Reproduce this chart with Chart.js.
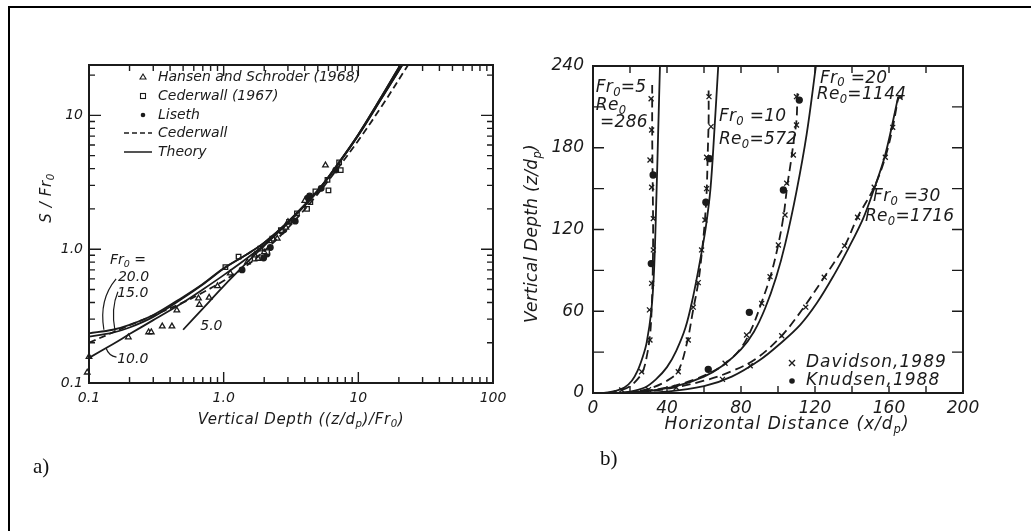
<!DOCTYPE html>
<html>
<head>
<meta charset="utf-8">
<title>Jet spreading and trajectories</title>
<script src="https://cdn.jsdelivr.net/npm/chart.js@4.4.1/dist/chart.umd.min.js"></script>
<style>
  html, body { margin: 0; padding: 0; background: #fff; }
  body { width: 1031px; height: 531px; position: relative; overflow: hidden; }
  .frame { position: absolute; left: 8px; top: 6px; width: 1100px; height: 600px;
           border-left: 2px solid #000; border-top: 2px solid #000; }
  canvas { position: absolute; top: 0; }
  #panelA { left: 0; }
  #panelB { left: 520px; }
  .tag { position: absolute; font: 21px "Liberation Serif", "Times New Roman", serif; color: #111; }
</style>
</head>
<body>
<div class="frame"></div>
<canvas id="panelA" width="520" height="531"></canvas>
<canvas id="panelB" width="511" height="531"></canvas>
<div class="tag" style="left:33px; top:454px">a)</div>
<div class="tag" style="left:600px; top:446px">b)</div>
<script>
const ink = "#1b1b1b";
const FONT = '"DejaVu Sans", "Liberation Sans", sans-serif';

// ---------- a) spreading S/Fr0 vs (z/dp)/Fr0, log-log ----------
const theoryX = [0.1, 0.15, 0.2, 0.3, 0.5, 0.7, 1.0, 1.5, 2, 3, 5, 7, 10, 15, 20.5];
const fr20Y = [0.235, 0.25, 0.272, 0.322, 0.44, 0.55, 0.72, 0.92, 1.12, 1.6, 2.75, 4.3, 7.2, 14, 23.8];
const fr15Y = [0.222, 0.238, 0.26, 0.312, 0.432, 0.545, 0.715, 0.92, 1.12, 1.6, 2.75, 4.3, 7.2, 14, 23.8];
const fr10X = [0.1, 0.15, 0.2, 0.3, 0.5, 0.7, 1.0, 1.5, 2, 3, 5, 7, 10, 15, 21.2];
const fr10Y = [0.154, 0.195, 0.232, 0.295, 0.4, 0.5, 0.64, 0.86, 1.08, 1.58, 2.72, 4.25, 7.1, 13.6, 23.8];
const fr5X = [0.5, 0.7, 1.0, 1.5, 2, 3, 5, 7, 10, 15, 21.2];
const fr5Y = [0.25, 0.36, 0.53, 0.8, 1.06, 1.57, 2.72, 4.25, 7.1, 13.6, 23.8];
const cederwallX = [0.1, 0.2, 0.3, 0.5, 0.7, 1, 1.5, 2, 3, 5, 7, 10, 15, 23.4];
const cederwallY = [0.2, 0.27, 0.32, 0.4, 0.475, 0.58, 0.76, 0.97, 1.44, 2.59, 4.0, 6.5, 11.8, 23.8];

const hansenX = [0.097, 0.1, 0.196, 0.277, 0.29, 0.35, 0.413, 0.449, 0.65, 0.66, 0.78, 0.9, 1.12, 1.5, 1.7, 1.8, 2.0, 2.2, 2.5, 2.9, 3.0, 4.0, 5.7];
const hansenY = [0.12, 0.157, 0.22, 0.24, 0.24, 0.265, 0.265, 0.35, 0.43, 0.385, 0.435, 0.53, 0.66, 0.8, 0.9, 0.85, 0.95, 1.15, 1.2, 1.45, 1.6, 2.3, 4.24];
const cederwall67X = [1.03, 1.29, 1.7, 1.87, 2.1, 2.3, 2.66, 3.06, 3.5, 4.16, 4.4, 4.8, 5.9, 6.0, 7.2, 7.4];
const cederwall67Y = [0.735, 0.88, 0.85, 1.01, 0.95, 1.2, 1.39, 1.6, 1.85, 2.0, 2.25, 2.7, 3.3, 2.75, 4.45, 3.9];
const lisethX = [1.37, 1.98, 2.1, 2.22, 2.7, 2.8, 3.4, 4.2, 4.35, 5.3, 6.8];
const lisethY = [0.7, 0.86, 0.92, 1.03, 1.36, 1.4, 1.62, 2.4, 2.5, 2.85, 3.9];

// ---------- b) trajectories z/dp vs x/dp ----------
const fr5SolidX = [6, 12, 17, 21, 24, 27, 29, 31.5, 33, 34.3, 35.2, 36.2];
const fr5SolidY = [0, 1.5, 4, 9, 16, 27, 37, 60, 90, 145, 190, 240];
const fr5DashX = [8, 15, 20, 24, 27, 29.5, 31, 31.8, 32.3, 32.5, 32.3, 32, 32];
const fr5DashY = [0, 2, 5, 10, 16, 30, 45, 65, 90, 120, 150, 190, 226];
const fr10SolidX = [12, 20, 28, 34, 40, 45, 50, 54, 58, 61, 63.5, 65.5, 67.7];
const fr10SolidY = [0, 1, 4, 10, 19, 31, 48, 70, 98, 122, 150, 190, 240];
const fr10DashX = [18, 30, 40, 46, 51, 54, 57, 59, 60.5, 61.5, 62, 62.5, 62.5];
const fr10DashY = [0, 3, 9, 16, 38, 60, 82, 105, 127, 150, 175, 200, 222];
const fr20SolidX = [15, 30, 45, 60, 70, 80, 87, 93, 99, 104, 110, 115.5, 120.5];
const fr20SolidY = [0, 1.5, 5, 12, 20, 32, 45, 62, 85, 110, 148, 190, 240];
const fr20DashX = [20, 40, 55, 65, 72, 80, 86, 91, 96, 100, 103, 105, 107, 108.5, 110, 110.5];
const fr20DashY = [0, 4, 10, 16, 22, 33, 48, 66, 86, 108, 130, 152, 170, 185, 200, 220];
const fr30SolidX = [20, 40, 60, 75, 90, 101, 112, 121, 130, 138, 146, 152, 158, 165];
const fr30SolidY = [0, 1, 5, 12, 24, 36, 50, 66, 86, 106, 128, 150, 175, 217.5];
const fr30DashX = [18, 40, 60, 75, 88, 102, 114, 125, 136, 143, 152, 158, 162, 165];
const fr30DashY = [0, 3, 9, 16, 25, 42, 63, 85, 108, 129, 151, 173, 195, 217];

const davidsonX = [15.5, 26.3, 30.8, 30.5, 31.7, 32.6, 32.6, 31.7, 30.8, 31.7, 31.4,
                   30, 46.1, 51.5, 54.2, 56.9, 58.7, 60.5, 61.4, 61.4, 63.8, 62.7,
                   71.4, 83, 91.2, 95.7, 100.2, 103.8, 104.7, 108.3, 110, 110,
                   45, 70, 85, 102, 115, 125, 136, 143, 152, 158, 162, 166];
const davidsonY = [2.2, 15.6, 38.9, 61, 80.5, 105, 128, 151, 171, 193, 216,
                   2.5, 15.6, 38.9, 63, 81, 105, 127, 150, 173, 195.5, 217.5,
                   21.8, 42.6, 65.8, 85.4, 108.6, 130.6, 154, 174.7, 196.7, 217.5,
                   4, 10, 20, 42, 63, 85, 108, 129, 151, 173, 195, 217];
const knudsenX = [31.5, 32.5, 61, 63, 62.3, 84.5, 102.9, 111.5];
const knudsenY = [95, 160, 140, 172, 17.4, 59.2, 149, 215];

const pts = (xs, ys) => xs.map((x, i) => ({ x: x, y: ys[i] }));

function curve(label, xs, ys, dash) {
    return {
        label: label,
        data: pts(xs, ys),
        showLine: true,
        borderColor: ink,
        borderWidth: 1.8,
        borderDash: dash || [],
        pointRadius: 0,
        tension: 0.35,
        fill: false,
    };
}

function marks(label, xs, ys, style, filled, r) {
    return {
        label: label,
        data: pts(xs, ys),
        showLine: false,
        pointStyle: style,
        pointRadius: r,
        borderWidth: 1.3,
        borderColor: ink,
        backgroundColor: filled ? ink : "#fff",
    };
}

// "Fr_0" -> Fr with subscript 0
function rich(s) {
    const parts = [];
    let buf = "";
    for (let i = 0; i < s.length; i++) {
        if (s[i] === "_" && i + 1 < s.length) {
            if (buf) parts.push({ t: buf });
            parts.push({ t: s[i + 1], sub: true });
            buf = "";
            i++;
        } else {
            buf += s[i];
        }
    }
    if (buf) parts.push({ t: buf });
    return parts;
}

function drawRich(ctx, s, x, y, size, align, spacing) {
    const parts = rich(s);
    const fontFor = (p) => `italic ${p.sub ? size * 0.68 : size}px ${FONT}`;
    ctx.letterSpacing = (spacing || 0) + "px";
    let w = 0;
    for (const p of parts) {
        ctx.font = fontFor(p);
        p.w = ctx.measureText(p.t).width;
        w += p.w;
    }
    let cx = align === "center" ? x - w / 2 : align === "right" ? x - w : x;
    ctx.textAlign = "left";
    ctx.textBaseline = "middle";
    for (const p of parts) {
        ctx.font = fontFor(p);
        ctx.fillText(p.t, cx, p.sub ? y + size * 0.3 : y);
        cx += p.w;
    }
    ctx.letterSpacing = "0px";
}

// frame round the plot and inward tick marks on all four sides
function frameTicks(xLen, yLen) {
    return {
        id: "frameTicks",
        afterDatasetsDraw(chart) {
            const { ctx, chartArea: a, scales } = chart;
            ctx.save();
            ctx.strokeStyle = ink;
            ctx.lineWidth = 1.4;
            ctx.beginPath();
            for (const t of scales.x.ticks) {
                const len = xLen(t.value);
                if (!len) continue;
                const px = scales.x.getPixelForValue(t.value);
                ctx.moveTo(px, a.bottom);
                ctx.lineTo(px, a.bottom - len);
                ctx.moveTo(px, a.top);
                ctx.lineTo(px, a.top + len);
            }
            for (const t of scales.y.ticks) {
                const len = yLen(t.value);
                if (!len) continue;
                const py = scales.y.getPixelForValue(t.value);
                ctx.moveTo(a.left, py);
                ctx.lineTo(a.left + len, py);
                ctx.moveTo(a.right, py);
                ctx.lineTo(a.right - len, py);
            }
            ctx.stroke();
            ctx.lineWidth = 2;
            ctx.strokeRect(a.left, a.top, a.right - a.left, a.bottom - a.top);
            ctx.restore();
        },
    };
}

function logTick(major, minor) {
    return (v) => {
        const e = Math.floor(Math.log10(v) + 1e-9);
        const m = v / Math.pow(10, e);
        if (Math.abs(m - Math.round(m)) > 1e-6) return 0;
        return Math.round(m) === 1 ? major : minor;
    };
}

function decadeLabel(v) {
    const e = Math.log10(v);
    if (Math.abs(e - Math.round(e)) > 1e-6) return "";
    const names = { "-1": "0.1", "0": "1.0", "1": "10", "2": "100" };
    return names[Math.round(e)] || "";
}

const tickFont = (size) => ({ family: FONT, size: size, style: "italic" });

// ---------- panel a) ----------
const notesA = [
    { text: "Fr_0 =", x: 0.143, y: 0.83 },
    { text: "20.0", x: 0.164, y: 0.618 },
    { text: "15.0", x: 0.162, y: 0.47 },
    { text: "5.0", x: 0.67, y: 0.266 },
    { text: "10.0", x: 0.162, y: 0.151 },
];
const leadersA = [
    [[0.159, 0.6], [0.118, 0.42], [0.129, 0.25]],
    [[0.164, 0.48], [0.145, 0.36], [0.156, 0.245]],
    [[0.16, 0.156], [0.14, 0.16], [0.134, 0.182]],
];

const textA = {
    id: "textA",
    afterDraw(chart) {
        const { ctx, chartArea: a, scales: { x, y } } = chart;
        ctx.save();
        ctx.fillStyle = ink;
        ctx.strokeStyle = ink;

        for (const n of notesA) {
            drawRich(ctx, n.text, x.getPixelForValue(n.x), y.getPixelForValue(n.y), 14, "left");
        }
        ctx.lineWidth = 1.2;
        for (const l of leadersA) {
            const p = l.map((q) => [x.getPixelForValue(q[0]), y.getPixelForValue(q[1])]);
            ctx.beginPath();
            ctx.moveTo(p[0][0], p[0][1]);
            ctx.quadraticCurveTo(p[1][0], p[1][1], p[2][0], p[2][1]);
            ctx.stroke();
        }

        // key in the upper left corner
        const kx = a.left + 54;
        const tx = a.left + 69;
        const rows = [12, 31, 50, 68, 87].map((d) => a.top + d);
        ctx.lineWidth = 1.1;
        ctx.beginPath();
        ctx.moveTo(kx, rows[0] - 3);
        ctx.lineTo(kx + 3, rows[0] + 2);
        ctx.lineTo(kx - 3, rows[0] + 2);
        ctx.closePath();
        ctx.stroke();
        ctx.strokeRect(kx - 2.5, rows[1] - 2.5, 5, 5);
        ctx.beginPath();
        ctx.arc(kx, rows[2], 2.3, 0, Math.PI * 2);
        ctx.fill();
        ctx.lineWidth = 1.5;
        ctx.setLineDash([5, 3]);
        ctx.beginPath();
        ctx.moveTo(a.left + 35, rows[3]);
        ctx.lineTo(a.left + 63, rows[3]);
        ctx.stroke();
        ctx.setLineDash([]);
        ctx.beginPath();
        ctx.moveTo(a.left + 35, rows[4]);
        ctx.lineTo(a.left + 63, rows[4]);
        ctx.stroke();
        const keys = ["Hansen and Schroder (1968)", "Cederwall (1967)", "Liseth", "Cederwall", "Theory"];
        keys.forEach((k, i) => drawRich(ctx, k, tx, rows[i], 14, "left"));

        // axis titles
        drawRich(ctx, "Vertical Depth ((z/d_p)/Fr_0)", (a.left + a.right) / 2 + 10, a.bottom + 37, 15, "center", 0.6);
        ctx.translate(a.left - 42, a.top + 133);
        ctx.rotate(-Math.PI / 2);
        drawRich(ctx, "S / Fr_0", 0, 0, 15, "center", 0.6);
        ctx.restore();
    },
};

new Chart(document.getElementById("panelA"), {
    type: "scatter",
    data: {
        datasets: [
            curve("Theory Fr0 = 20", theoryX, fr20Y),
            curve("Theory Fr0 = 15", theoryX, fr15Y),
            curve("Theory Fr0 = 10", fr10X, fr10Y),
            curve("Theory Fr0 = 5", fr5X, fr5Y),
            curve("Cederwall", cederwallX, cederwallY, [7, 4]),
            Object.assign(marks("Hansen and Schroder (1968)", hansenX, hansenY, "triangle", false, 3.2), { clip: false }),
            marks("Cederwall (1967)", cederwall67X, cederwall67Y, "rect", false, 3.2),
            marks("Liseth", lisethX, lisethY, "circle", true, 2.8),
        ],
    },
    options: {
        responsive: false,
        animation: false,
        layout: { padding: { left: 39, right: 27, top: 65, bottom: 108 } },
        plugins: { legend: { display: false }, tooltip: { enabled: false } },
        scales: {
            x: {
                type: "logarithmic",
                min: 0.1,
                max: 100,
                grid: { display: false, drawTicks: false },
                border: { display: false },
                ticks: { autoSkip: false, maxRotation: 0, padding: 7, color: ink, font: tickFont(14), callback: decadeLabel },
                afterFit: (s) => { s.height = 40; },
            },
            y: {
                type: "logarithmic",
                min: 0.1,
                max: 23.8,
                grid: { display: false, drawTicks: false },
                border: { display: false },
                ticks: { autoSkip: false, padding: 6, color: ink, font: tickFont(14), callback: decadeLabel },
                afterFit: (s) => { s.width = 50; },
            },
        },
    },
    plugins: [frameTicks(logTick(11, 6), logTick(12, 6)), textA],
});

// ---------- panel b) ----------
const notesB = [
    { text: "Fr_0=5", x: 1.5, y: 224 },
    { text: "Re_0", x: 1.5, y: 211 },
    { text: "=286", x: 3.8, y: 198.5 },
    { text: "Fr_0 =10", x: 68.1, y: 202.6 },
    { text: "Re_0=572", x: 68.1, y: 185.7 },
    { text: "Fr_0 =20", x: 122.7, y: 231 },
    { text: "Re_0=1144", x: 121, y: 218.7 },
    { text: "Fr_0 =30", x: 151.4, y: 143.9 },
    { text: "Re_0=1716", x: 147, y: 129.2 },
];

const textB = {
    id: "textB",
    afterDraw(chart) {
        const { ctx, chartArea: a, scales: { x, y } } = chart;
        ctx.save();
        ctx.fillStyle = ink;
        ctx.strokeStyle = ink;
        for (const n of notesB) {
            drawRich(ctx, n.text, x.getPixelForValue(n.x), y.getPixelForValue(n.y), 17, "left", 0.3);
        }

        // key in the lower right corner
        const kx = a.left + 199;
        const r1 = a.top + 297;
        const r2 = a.top + 315;
        ctx.lineWidth = 1.4;
        ctx.beginPath();
        ctx.moveTo(kx - 3, r1 - 3);
        ctx.lineTo(kx + 3, r1 + 3);
        ctx.moveTo(kx + 3, r1 - 3);
        ctx.lineTo(kx - 3, r1 + 3);
        ctx.stroke();
        ctx.beginPath();
        ctx.arc(kx, r2, 2.8, 0, Math.PI * 2);
        ctx.fill();
        drawRich(ctx, "Davidson,1989", a.left + 213, r1, 17, "left", 1);
        drawRich(ctx, "Knudsen,1988", a.left + 213, r2, 17, "left", 1);

        // axis titles
        drawRich(ctx, "Horizontal Distance (x/d_p)", (a.left + a.right) / 2 + 9, a.bottom + 32, 17, "center", 1);
        ctx.translate(a.left - 60, (a.top + a.bottom) / 2 + 4);
        ctx.rotate(-Math.PI / 2);
        drawRich(ctx, "Vertical Depth (z/d_p)", 0, 0, 17, "center", 0.3);
        ctx.restore();
    },
};

new Chart(document.getElementById("panelB"), {
    type: "scatter",
    data: {
        datasets: [
            curve("Fr0 = 5", fr5SolidX, fr5SolidY),
            curve("Fr0 = 5 (fit)", fr5DashX, fr5DashY, [9, 5]),
            curve("Fr0 = 10", fr10SolidX, fr10SolidY),
            curve("Fr0 = 10 (fit)", fr10DashX, fr10DashY, [9, 5]),
            curve("Fr0 = 20", fr20SolidX, fr20SolidY),
            curve("Fr0 = 20 (fit)", fr20DashX, fr20DashY, [9, 5]),
            curve("Fr0 = 30", fr30SolidX, fr30SolidY),
            curve("Fr0 = 30 (fit)", fr30DashX, fr30DashY, [9, 5]),
            marks("Davidson, 1989", davidsonX, davidsonY, "crossRot", false, 3.5),
            marks("Knudsen, 1988", knudsenX, knudsenY, "circle", true, 3),
        ],
    },
    options: {
        responsive: false,
        animation: false,
        layout: { padding: { left: 23, right: 68, top: 66, bottom: 98 } },
        plugins: { legend: { display: false }, tooltip: { enabled: false } },
        scales: {
            x: {
                type: "linear",
                min: 0,
                max: 200,
                grid: { display: false, drawTicks: false },
                border: { display: false },
                ticks: {
                    stepSize: 20,
                    autoSkip: false,
                    maxRotation: 0,
                    padding: 5,
                    color: ink,
                    font: tickFont(17),
                    callback: (v) => (v % 40 === 0 ? v : ""),
                },
                afterFit: (s) => { s.height = 40; },
            },
            y: {
                type: "linear",
                min: 0,
                max: 240,
                grid: { display: false, drawTicks: false },
                border: { display: false },
                ticks: {
                    stepSize: 30,
                    autoSkip: false,
                    padding: 9,
                    color: ink,
                    font: tickFont(17),
                    callback: (v) => (v % 60 === 0 ? v : ""),
                },
                afterFit: (s) => { s.width = 50; },
            },
        },
    },
    plugins: [frameTicks(() => 7, () => 11), textB],
});
</script>
</body>
</html>
